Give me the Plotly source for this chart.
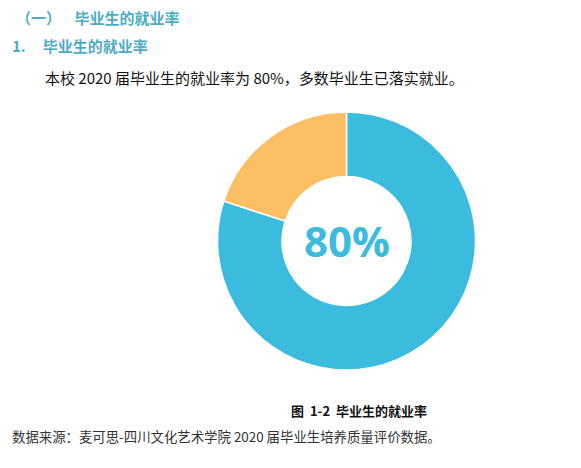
import plotly.graph_objects as go

labels = ["就业", "未就业"]
values = [80, 20]
colors = ["#3BBBDD", "#FDBF63"]
center_label = "80%"

# page has an 8px body margin; work in page coordinates and subtract it
OFF = 8
W, H = 581 - OFF, 468 - OFF
cx, cy, r = 346.5, 241, 129

def px(x):
    return (x - OFF) / W

def py(y):
    return 1 - (y - OFF) / H

fig = go.Figure()
fig.add_trace(go.Pie(
    labels=labels, values=values, hole=0.5, sort=False, direction="clockwise",
    rotation=0, textinfo="none", hoverinfo="label+percent",
    marker=dict(colors=colors, line=dict(color="white", width=1.5)),
    domain=dict(x=[px(cx - r), px(cx + r)], y=[py(cy + r), py(cy - r)]),
    showlegend=False,
))

font = "Noto Sans CJK SC, Open Sans, sans-serif"
blue = "#4BACC6"

def txt(x, y, s, size, color, xanchor="left"):
    fig.add_annotation(x=px(x), y=py(y), xref="paper", yref="paper", text=s,
                       showarrow=False, xanchor=xanchor, yanchor="middle",
                       font=dict(family=font, size=size, color=color))

txt(14, 17, "<b>（一）    毕业生的就业率</b>", 15, blue)
txt(10, 46, "<b>1.     毕业生的就业率</b>", 15, blue)
txt(43, 77, "本校 2020 届毕业生的就业率为 80%，多数毕业生已落实就业。", 15, "#111111")
txt(359, 410, "<b>图  1-2  毕业生的就业率</b>", 13, "#111111", "center")
txt(10, 436, "数据来源：麦可思-四川文化艺术学院 2020 届毕业生培养质量评价数据。", 13.4, "#333333")

fig.add_annotation(x=px(cx), y=py(cy), xref="paper", yref="paper", text="<b>" + center_label + "</b>",
                   showarrow=False, xanchor="center", yanchor="middle",
                   font=dict(family="Open Sans, sans-serif", size=42, color="#3BBBDD"))

fig.update_layout(width=W, height=H, margin=dict(l=0, r=0, t=0, b=0),
                  paper_bgcolor="white", plot_bgcolor="white")
fig.write_html("out.html")
